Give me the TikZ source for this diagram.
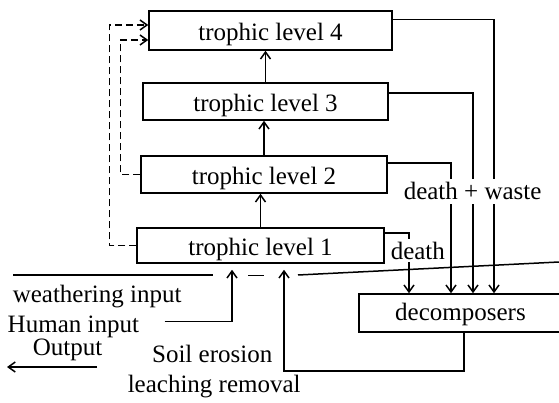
\documentclass[tikz,border=0pt]{standalone}
\usepackage{fontspec}
\setmainfont{Liberation Serif}
\usetikzlibrary{arrows.meta}
\begin{document}
\begin{tikzpicture}[x=1pt,y=-1pt,line width=1.5pt,
  txt/.style={font=\fontsize{25}{28}\selectfont},
  box/.style={txt,draw,rectangle,inner sep=0pt,text height=24pt,text depth=4pt},
  lab/.style={txt,inner sep=0pt},
  arr/.style={-{Straight Barb[length=7pt,width=10pt]}},
  dsh/.style={dash pattern=on 7pt off 4pt}]
\useasboundingbox (0,0) rectangle (559,403);
% boxes
\node[box,minimum width=243pt,minimum height=39pt] (tl4) at (270.5,30.5) {trophic level 4};
\node[box,minimum width=245pt,minimum height=37pt] (tl3) at (265.5,101.5) {trophic level 3};
\node[box,minimum width=246pt,minimum height=37pt] (tl2) at (264,174.5) {trophic level 2};
\node[box,minimum width=247pt,minimum height=35pt] (tl1) at (260.5,245.5) {trophic level 1};
\node[box,minimum width=203pt,minimum height=38pt,text height=18pt,text depth=4pt] (dec) at (460.5,313) {decomposers};
% upward chain
\draw[arr] (tl1.north) -- (tl1.north |- tl2.south);
\draw[arr] (tl2.north) -- (tl2.north |- tl3.south);
\draw[arr] (tl3.north) -- (tl3.north |- tl4.south);
% dashed feedback
\draw[arr,dsh] (tl1.west) -- ++(-27,0) |- ([yshift=5.5pt]tl4.west);
\draw[arr,dsh] (tl2.west) -- ++(-20,0) |- ([yshift=-9.5pt]tl4.west);
% to decomposers
\draw[arr] ([yshift=11pt]tl4.east) -| ([xshift=33.5pt]dec.north);
\draw[arr] ([yshift=8.5pt]tl3.east) -| ([xshift=12.5pt]dec.north);
\draw[arr] ([yshift=11.5pt]tl2.east) -| ([xshift=-9.5pt]dec.north);
\draw[arr] ([yshift=12.5pt]tl1.east) -| ([xshift=-51.5pt]dec.north);
% labels on the lines
\node[lab,fill=white,anchor=base west,inner ysep=4pt] (dw) at (403,200) {death + waste};
\node[lab,fill=white,anchor=base west,inner ysep=3pt] (dth) at (390,259) {death};
% left labels
\node[lab,anchor=base west] (wi) at (12,302) {weathering input};
\node[lab,anchor=base west] (hi) at (7,332) {Human input};
\node[lab,anchor=base west] (out) at (32,355) {Output};
\node[lab,anchor=base east] (se) at (273,362) {Soil erosion};
\node[lab,anchor=base west] (lr) at (127,392) {leaching removal};
% inputs
\draw[arr] ([xshift=25pt,yshift=5pt]hi.east) -| ([xshift=-28.5pt,yshift=-6pt]tl1.south);
\draw[arr] (dec.south) ++(3.5,0) -- ++(0,38) -| ([xshift=23.5pt,yshift=-6pt]tl1.south);
% output
\coordinate (o1) at (97,367);
\coordinate (o2) at (7,367);
\draw[arr] (o1) -- (o2);
% ground line
\coordinate (g1) at (13,275);
\coordinate (g2) at (213,275);
\coordinate (g3) at (248,275.5);
\coordinate (g4) at (264,275.5);
\coordinate (g5) at (298,275);
\coordinate (g6) at (559,262);
\draw (g1) -- (g2);
\draw (g3) -- (g4);
\draw (g5) -- (g6);
\end{tikzpicture}
\end{document}
